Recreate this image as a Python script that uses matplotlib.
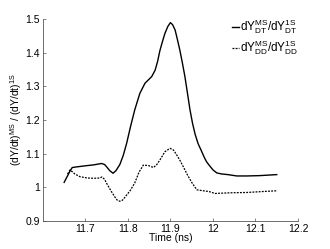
import matplotlib
matplotlib.use("Agg")
import matplotlib.pyplot as plt

plt.rcParams['font.family'] = ['Liberation Sans', 'DejaVu Sans']
plt.rcParams['mathtext.fontset'] = 'custom'
plt.rcParams['mathtext.rm'] = 'Liberation Sans'
plt.rcParams['mathtext.it'] = 'Liberation Sans'
plt.rcParams['mathtext.bf'] = 'Liberation Sans'
plt.rcParams['mathtext.default'] = 'rm'

t_dt = [11.650, 11.657, 11.664, 11.669, 11.680, 11.699, 11.720, 11.738, 11.745, 11.750,
        11.757, 11.765, 11.772, 11.781, 11.789, 11.797, 11.806, 11.816, 11.828, 11.840,
        11.856, 11.864, 11.870, 11.875, 11.881, 11.887, 11.894, 11.900, 11.905, 11.911,
        11.916, 11.922, 11.928, 11.934, 11.940, 11.946, 11.952, 11.958, 11.965, 11.973,
        11.980, 11.985, 11.991, 12.000, 12.009, 12.020, 12.035, 12.056, 12.080, 12.110,
        12.150]
y_dt = [1.015, 1.032, 1.049, 1.059, 1.061, 1.064, 1.067, 1.071, 1.068, 1.061,
        1.050, 1.042, 1.050, 1.068, 1.095, 1.131, 1.180, 1.230, 1.279, 1.309,
        1.329, 1.348, 1.375, 1.405, 1.432, 1.457, 1.478, 1.489, 1.483, 1.467,
        1.441, 1.408, 1.370, 1.329, 1.280, 1.230, 1.190, 1.158, 1.130, 1.108,
        1.088, 1.076, 1.066, 1.052, 1.043, 1.040, 1.038, 1.034, 1.034, 1.035,
        1.038]

t_dd = [11.658, 11.664, 11.675, 11.687, 11.704, 11.720, 11.734, 11.739, 11.745, 11.750,
        11.760, 11.769, 11.775, 11.781, 11.787, 11.793, 11.805, 11.816, 11.826, 11.836,
        11.848, 11.860, 11.868, 11.875, 11.887, 11.899, 11.907, 11.915, 11.922, 11.930,
        11.940, 11.950, 11.962, 11.977, 11.990, 12.005, 12.040, 12.080, 12.120, 12.150]
y_dd = [1.040, 1.052, 1.040, 1.032, 1.028, 1.027, 1.028, 1.031, 1.024, 1.012,
        0.990, 0.972, 0.962, 0.959, 0.962, 0.971, 0.990, 1.013, 1.045, 1.066,
        1.065, 1.059, 1.068, 1.081, 1.106, 1.116, 1.111, 1.096, 1.081, 1.062,
        1.037, 1.015, 0.993, 0.990, 0.988, 0.982, 0.984, 0.985, 0.988, 0.990]

xticks = [11.7, 11.8, 11.9, 12.0, 12.1, 12.2]
xticklabels = ['11.7', '11.8', '11.9', '12', '12.1', '12.2']
yticks = [0.9, 1.0, 1.1, 1.2, 1.3, 1.4, 1.5]
yticklabels = ['0.9', '1', '1.1', '1.2', '1.3', '1.4', '1.5']

fig = plt.figure(figsize=(3.3, 2.49), dpi=100)
ax = fig.add_axes([0.130, 0.112, 0.773, 0.812])

ax.plot(t_dt, y_dt, color='black', lw=1.0, ls='-',
        label=r'$\mathrm{dY^{MS}_{DT}/dY^{1S}_{DT}}$')
ax.plot(t_dd, y_dd, color='black', lw=0.9, ls=(0, (1.5, 1.0)),
        label=r'$\mathrm{dY^{MS}_{DD}/dY^{1S}_{DD}}$')

ax.set_xlim(11.6, 12.2)
ax.set_ylim(0.9, 1.5)
ax.set_xticks(xticks)
ax.set_xticklabels(xticklabels)
ax.set_yticks(yticks)
ax.set_yticklabels(yticklabels)
ax.tick_params(direction='in', length=2, width=0.5, labelsize=7.5, pad=2, color='#555555')
for s in ['top', 'right']:
    ax.spines[s].set_visible(False)
for s in ['left', 'bottom']:
    ax.spines[s].set_linewidth(0.6)
    ax.spines[s].set_color('#555555')

ax.set_xlabel('Time (ns)', fontsize=7.5, labelpad=-1)
ax.set_ylabel(r'$\mathrm{(dY/dt)^{MS}\ /\ (dY/dt)^{1S}}$', fontsize=7.5, labelpad=1)

leg = ax.legend(loc='upper right', bbox_to_anchor=(1.02, 1.03), frameon=False,
                fontsize=8.5, handlelength=0.6, handletextpad=0.1,
                labelspacing=0.2, borderaxespad=0)

fig.savefig('out.png', dpi=100)
